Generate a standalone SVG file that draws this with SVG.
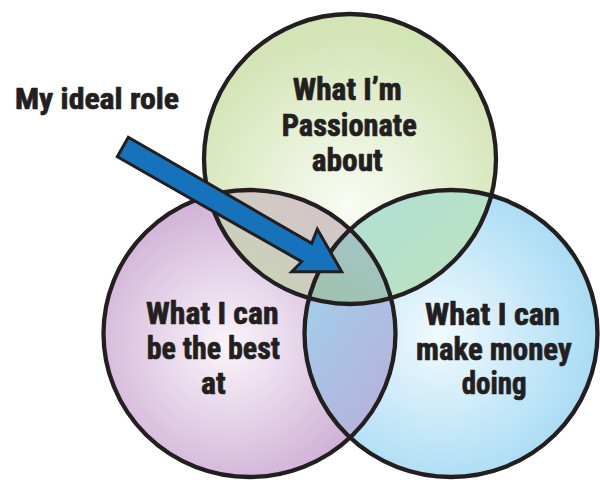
<svg xmlns="http://www.w3.org/2000/svg" width="600" height="480" viewBox="0 0 600 480">
  <style>
    .ring { fill: none; stroke: #231f20; stroke-width: 4.3; }
    .lbl { font-family: "Liberation Sans Narrow", "Roboto Condensed", Roboto, "Liberation Sans", sans-serif; font-weight: bold; font-stretch: condensed; fill: #231f20; stroke: #231f20; stroke-width: 0.7; stroke-linejoin: round; }
    .big { font-size: 32px; }
    .tag { font-size: 29px; }
    .arrow { fill: #1672ba; stroke: #231f20; stroke-width: 3; stroke-linejoin: miter; }
  </style>
  <defs>
    <radialGradient id="gGreen" gradientUnits="userSpaceOnUse" cx="350" cy="205" r="175">
      <stop offset="0" stop-color="#f9fcf3"/>
      <stop offset="1" stop-color="#d3e4b6"/>
    </radialGradient>
    <radialGradient id="gPurple" gradientUnits="userSpaceOnUse" cx="228" cy="345" r="165">
      <stop offset="0" stop-color="#faf5fa"/>
      <stop offset="1" stop-color="#ccaad3"/>
    </radialGradient>
    <radialGradient id="gBlue" gradientUnits="userSpaceOnUse" cx="440" cy="335" r="170">
      <stop offset="0" stop-color="#f1fafe"/>
      <stop offset="1" stop-color="#a3d9f3"/>
    </radialGradient>
    <linearGradient id="gGP" gradientUnits="userSpaceOnUse" x1="320" y1="195" x2="250" y2="295">
      <stop offset="0" stop-color="#d5c4ca"/>
      <stop offset="1" stop-color="#c8d4b5"/>
    </linearGradient>
    <linearGradient id="gGB" gradientUnits="userSpaceOnUse" x1="360" y1="200" x2="440" y2="300">
      <stop offset="0" stop-color="#b1dfd5"/>
      <stop offset="1" stop-color="#bbe2c0"/>
    </linearGradient>
    <linearGradient id="gPB" gradientUnits="userSpaceOnUse" x1="305" y1="320" x2="395" y2="380">
      <stop offset="0" stop-color="#a4cbea"/>
      <stop offset="1" stop-color="#b4b4dc"/>
    </linearGradient>
    <linearGradient id="gAll" gradientUnits="userSpaceOnUse" x1="360" y1="230" x2="330" y2="300">
      <stop offset="0" stop-color="#a4c4c6"/>
      <stop offset="1" stop-color="#9fc3b0"/>
    </linearGradient>
    <clipPath id="cG"><ellipse cx="350" cy="159" rx="146" ry="145"/></clipPath>
    <clipPath id="cP"><ellipse cx="249.5" cy="333.5" rx="146" ry="143.5"/></clipPath>
    <clipPath id="cB"><ellipse cx="451" cy="333.5" rx="146.5" ry="143.5"/></clipPath>
  </defs>

  <g id="fills">
    <ellipse cx="350" cy="159" rx="146" ry="145" fill="url(#gGreen)"/>
    <ellipse cx="249.5" cy="333.5" rx="146" ry="143.5" fill="url(#gPurple)"/>
    <ellipse cx="451" cy="333.5" rx="146.5" ry="143.5" fill="url(#gBlue)"/>
    <ellipse cx="249.5" cy="333.5" rx="146" ry="143.5" fill="url(#gGP)" clip-path="url(#cG)"/>
    <ellipse cx="451" cy="333.5" rx="146.5" ry="143.5" fill="url(#gGB)" clip-path="url(#cG)"/>
    <ellipse cx="451" cy="333.5" rx="146.5" ry="143.5" fill="url(#gPB)" clip-path="url(#cP)"/>
    <g clip-path="url(#cB)">
      <ellipse cx="350" cy="159" rx="146" ry="145" fill="url(#gAll)" clip-path="url(#cP)"/>
    </g>
  </g>

  <g id="node-passionate">
    <ellipse class="ring" cx="350" cy="159" rx="146" ry="145"/>
    <text class="lbl big" x="292.7" y="100" textLength="109" lengthAdjust="spacingAndGlyphs">What I’m</text>
    <text class="lbl big" x="281.7" y="136" textLength="135" lengthAdjust="spacingAndGlyphs">Passionate</text>
    <text class="lbl big" x="311.7" y="171" textLength="71" lengthAdjust="spacingAndGlyphs">about</text>
  </g>

  <g id="node-best">
    <ellipse class="ring" cx="249.5" cy="333.5" rx="146" ry="143.5"/>
    <text class="lbl big" x="146" y="323.5" textLength="132.5" lengthAdjust="spacingAndGlyphs">What I can</text>
    <text class="lbl big" x="146.7" y="358.5" textLength="133.3" lengthAdjust="spacingAndGlyphs">be the best</text>
    <text class="lbl big" x="201" y="393.5" textLength="24.7" lengthAdjust="spacingAndGlyphs">at</text>
  </g>

  <g id="node-money">
    <ellipse class="ring" cx="451" cy="333.5" rx="146.5" ry="143.5"/>
    <text class="lbl big" x="425" y="325" textLength="135" lengthAdjust="spacingAndGlyphs">What I can</text>
    <text class="lbl big" x="416" y="359.5" textLength="155.7" lengthAdjust="spacingAndGlyphs">make money</text>
    <text class="lbl big" x="461.7" y="394" textLength="65" lengthAdjust="spacingAndGlyphs">doing</text>
  </g>

  <g id="connectors">
    <polygon class="arrow" points="128.3,137.3 311.7,243.3 317.3,229.3 341.7,271.7 291.7,271.7 301.7,261.7 117.3,156.7"/>
  </g>

  <g id="node-ideal-role">
    <text class="lbl tag" x="15" y="109.3" textLength="164" lengthAdjust="spacingAndGlyphs">My ideal role</text>
  </g>
</svg>
